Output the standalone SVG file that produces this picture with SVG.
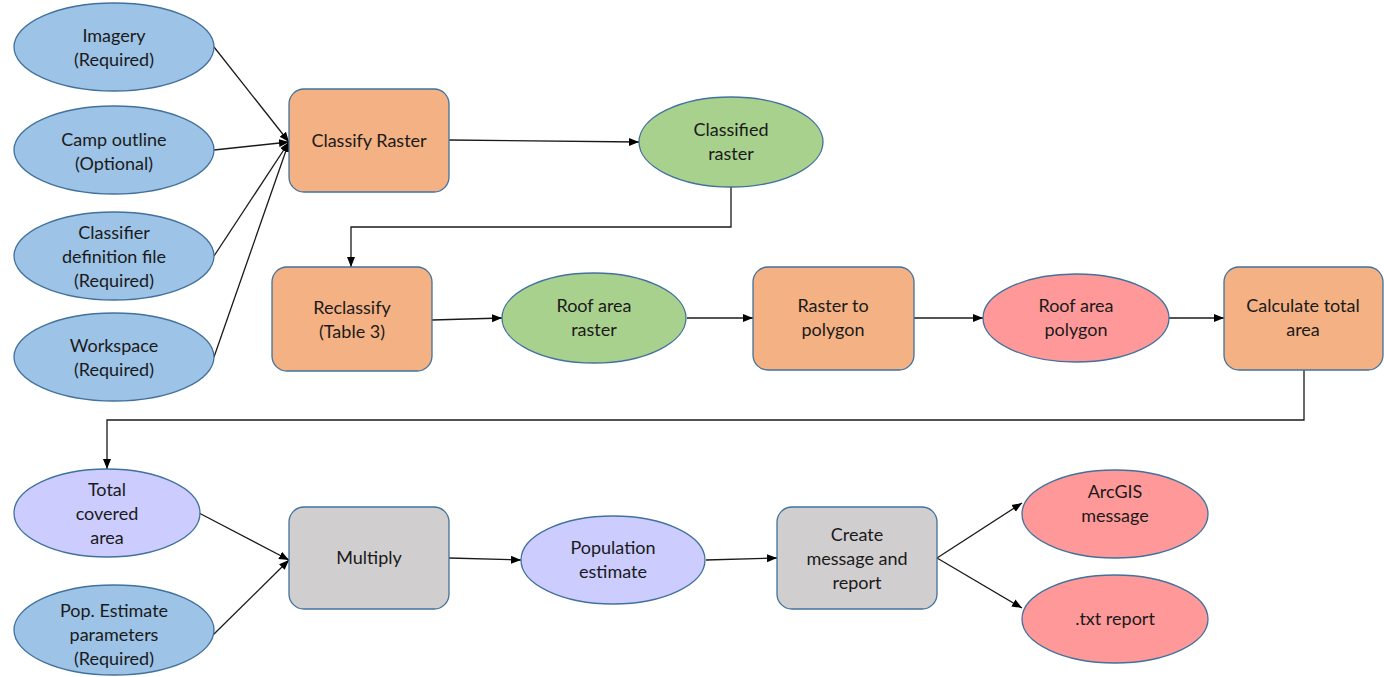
<svg xmlns="http://www.w3.org/2000/svg" width="1384" height="677" viewBox="0 0 1384 677">
<defs>
<marker id="ah" viewBox="0 0 10 10" refX="10" refY="5" markerWidth="10" markerHeight="10" markerUnits="userSpaceOnUse" orient="auto">
<path d="M0,1 L10,5 L0,9 z" fill="#000"/>
</marker>
<style>
.bl{fill:#9DC3E6;stroke:#41719C;stroke-width:1.3}
.or{fill:#F4B183;stroke:#41719C;stroke-width:1.3}
.gr{fill:#A9D18E;stroke:#41719C;stroke-width:1.3}
.rd{fill:#FF9999;stroke:#41719C;stroke-width:1.3}
.lv{fill:#CCCCFF;stroke:#41719C;stroke-width:1.3}
.gy{fill:#D0CECE;stroke:#41719C;stroke-width:1.3}
text{font-family:"Lato","Open Sans","Liberation Sans",sans-serif;font-size:18px;fill:#1a1a1a;text-anchor:middle;dominant-baseline:central}
.c line,.c polyline{stroke:#1a1a1a;stroke-width:1.3;fill:none;marker-end:url(#ah)}
</style>
</defs>
<rect width="1384" height="677" fill="#fff"/>
<g class="c" id="connectors">
<line x1="214" y1="47" x2="289" y2="142"/>
<line x1="214" y1="150" x2="289" y2="142"/>
<line x1="214" y1="256" x2="289" y2="142"/>
<line x1="214" y1="357" x2="289" y2="142"/>
<line x1="449" y1="140" x2="639" y2="142"/>
<polyline points="731,187 731,227 351,227 351,267"/>
<line x1="432" y1="320" x2="502" y2="318"/>
<line x1="687" y1="318" x2="753" y2="318"/>
<line x1="914" y1="318" x2="983" y2="318"/>
<line x1="1169" y1="318" x2="1224" y2="318"/>
<polyline points="1304,370 1304,420 107,420 107,469"/>
<line x1="199" y1="513" x2="289" y2="560"/>
<line x1="213" y1="635" x2="289" y2="560"/>
<line x1="449" y1="558" x2="521" y2="560"/>
<line x1="706" y1="560" x2="777" y2="558"/>
<line x1="937" y1="558" x2="1022" y2="503"/>
<line x1="937" y1="558" x2="1022" y2="608"/>
</g>
<g id="imagery"><ellipse class="bl" cx="114" cy="47" rx="100" ry="44"/><text x="114" y="35">Imagery</text><text x="114" y="59">(Required)</text></g>
<g id="camp"><ellipse class="bl" cx="114" cy="150" rx="100" ry="44"/><text x="114" y="139">Camp outline</text><text x="114" y="163">(Optional)</text></g>
<g id="classifier"><ellipse class="bl" cx="114" cy="256" rx="100" ry="44"/><text x="114" y="232">Classifier</text><text x="114" y="256">definition file</text><text x="114" y="280">(Required)</text></g>
<g id="workspace"><ellipse class="bl" cx="114" cy="357" rx="100" ry="44"/><text x="114" y="345">Workspace</text><text x="114" y="369">(Required)</text></g>
<g id="classify"><rect class="or" x="289" y="89" width="160" height="103" rx="15"/><text x="369" y="140">Classify Raster</text></g>
<g id="classified"><ellipse class="gr" cx="731" cy="142" rx="92" ry="45"/><text x="731" y="129">Classified</text><text x="731" y="153">raster</text></g>
<g id="reclassify"><rect class="or" x="272" y="267" width="160" height="104" rx="15"/><text x="352" y="307">Reclassify</text><text x="352" y="331">(Table 3)</text></g>
<g id="roofraster"><ellipse class="gr" cx="594" cy="318" rx="92" ry="45"/><text x="594" y="305">Roof area</text><text x="594" y="329">raster</text></g>
<g id="r2p"><rect class="or" x="753" y="267" width="161" height="103" rx="15"/><text x="833" y="305">Raster to</text><text x="833" y="329">polygon</text></g>
<g id="roofpoly"><ellipse class="rd" cx="1076" cy="318" rx="93" ry="44"/><text x="1076" y="305">Roof area</text><text x="1076" y="329">polygon</text></g>
<g id="calc"><rect class="or" x="1224" y="267" width="159" height="103" rx="15"/><text x="1303" y="305">Calculate total</text><text x="1303" y="329">area</text></g>
<g id="total"><ellipse class="lv" cx="107" cy="513" rx="93" ry="44"/><text x="107" y="489">Total</text><text x="107" y="513">covered</text><text x="107" y="537">area</text></g>
<g id="popparams"><ellipse class="bl" cx="114" cy="630" rx="100" ry="45"/><text x="114" y="610">Pop. Estimate</text><text x="114" y="634">parameters</text><text x="114" y="658">(Required)</text></g>
<g id="multiply"><rect class="gy" x="289" y="507" width="160" height="102" rx="15"/><text x="369" y="557">Multiply</text></g>
<g id="popest"><ellipse class="lv" cx="613" cy="560" rx="92" ry="44"/><text x="613" y="547">Population</text><text x="613" y="571">estimate</text></g>
<g id="create"><rect class="gy" x="777" y="507" width="160" height="102" rx="15"/><text x="857" y="534">Create</text><text x="857" y="558">message and</text><text x="857" y="582">report</text></g>
<g id="arcgis"><ellipse class="rd" cx="1115" cy="514" rx="93" ry="44"/><text x="1115" y="491">ArcGIS</text><text x="1115" y="515">message</text></g>
<g id="txt"><ellipse class="rd" cx="1115" cy="619" rx="93" ry="44"/><text x="1115" y="618">.txt report</text></g>
</svg>
